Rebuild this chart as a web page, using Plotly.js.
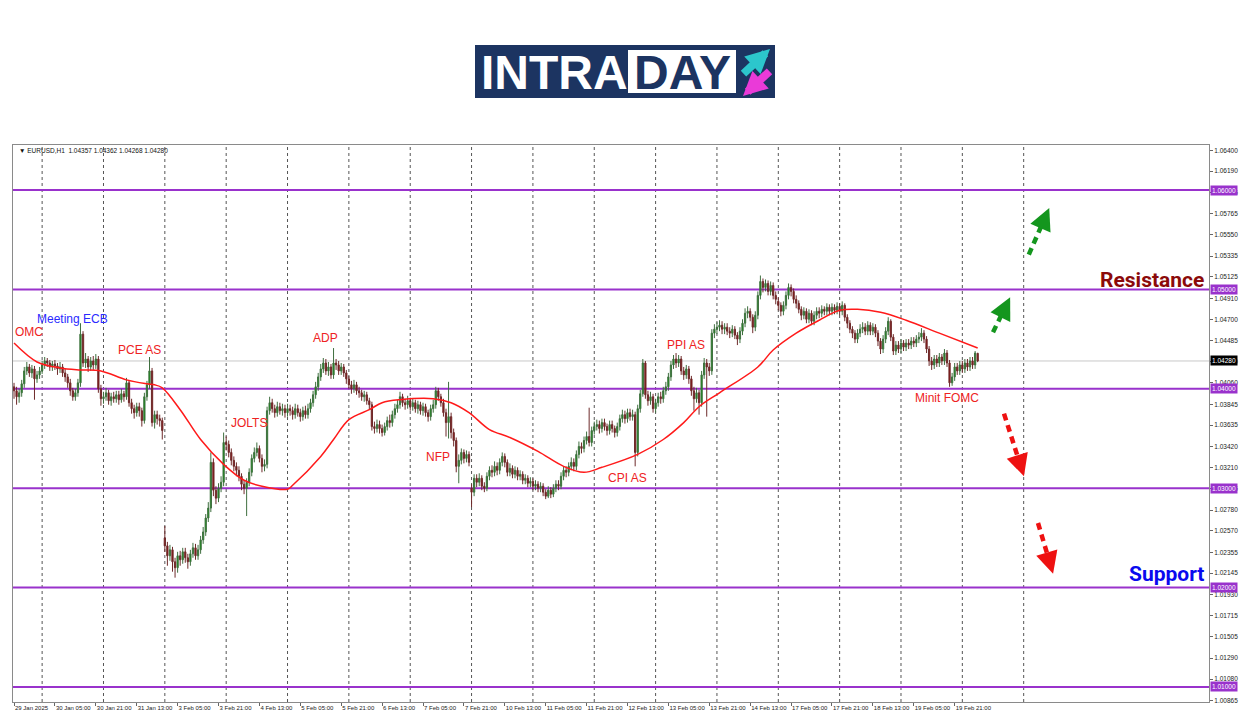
<!DOCTYPE html>
<html><head><meta charset="utf-8">
<script src="https://cdn.plot.ly/plotly-3.0.1.min.js"></script>
<style>html,body{margin:0;padding:0;background:#fff}#chart{width:1250px;height:716px}</style>
</head><body><div id="chart"></div>
<script>
// ---------- DATA (EURUSD H1, bar 0 = 29 Jan 2025 13:00) ----------
const open=[
1.0402,1.0398,1.0392,1.0396,1.0405,1.0418,1.0422,1.0416,1.0420,1.0410,
1.0414,1.0418,1.0424,1.0428,1.0426,1.0422,1.0425,1.0423,1.0420,1.0422,
1.0416,1.0412,1.0406,1.0398,1.0392,1.0396,1.0406,1.0455,1.0426,1.0430,
1.0422,1.0428,1.0424,1.0430,1.0400,1.0390,1.0392,1.0396,1.0388,1.0392,
1.0390,1.0394,1.0389,1.0395,1.0392,1.0406,1.0386,1.0380,1.0376,1.0382,
1.0378,1.0368,1.0392,1.0404,1.0418,1.0366,1.0374,1.0370,1.0368,1.0250,
1.0242,1.0232,1.0238,1.0226,1.0220,1.0232,1.0228,1.0236,1.0230,1.0226,
1.0234,1.0240,1.0232,1.0238,1.0248,1.0256,1.0270,1.0280,1.0326,1.0298,
1.0290,1.0300,1.0306,1.0346,1.0344,1.0336,1.0328,1.0322,1.0318,1.0312,
1.0304,1.0300,1.0306,1.0316,1.0330,1.0336,1.0340,1.0330,1.0322,1.0324,
1.0378,1.0386,1.0380,1.0376,1.0382,1.0378,1.0380,1.0376,1.0380,1.0378,
1.0374,1.0380,1.0376,1.0372,1.0378,1.0374,1.0380,1.0386,1.0394,1.0402,
1.0412,1.0420,1.0426,1.0418,1.0422,1.0414,1.0426,1.0424,1.0418,1.0422,
1.0416,1.0410,1.0404,1.0400,1.0404,1.0398,1.0396,1.0392,1.0394,1.0388,
1.0384,1.0362,1.0360,1.0364,1.0360,1.0356,1.0362,1.0368,1.0366,1.0374,
1.0380,1.0384,1.0392,1.0386,1.0384,1.0388,1.0382,1.0386,1.0380,1.0384,
1.0378,1.0382,1.0376,1.0372,1.0380,1.0384,1.0398,1.0392,1.0386,1.0376,
1.0366,1.0372,1.0356,1.0348,1.0322,1.0328,1.0336,1.0330,1.0334,1.0300,
1.0296,1.0310,1.0306,1.0310,1.0302,1.0300,1.0312,1.0318,1.0316,1.0322,
1.0318,1.0326,1.0332,1.0326,1.0316,1.0320,1.0314,1.0318,1.0312,1.0314,
1.0308,1.0310,1.0305,1.0307,1.0302,1.0304,1.0300,1.0302,1.0296,1.0292,
1.0298,1.0294,1.0300,1.0304,1.0302,1.0312,1.0318,1.0316,1.0322,1.0326,
1.0322,1.0334,1.0342,1.0340,1.0348,1.0352,1.0346,1.0358,1.0362,1.0364,
1.0360,1.0366,1.0362,1.0358,1.0364,1.0360,1.0356,1.0362,1.0370,1.0374,
1.0370,1.0376,1.0372,1.0374,1.0336,1.0380,1.0395,1.0426,1.0394,1.0388,
1.0392,1.0380,1.0386,1.0392,1.0390,1.0398,1.0402,1.0412,1.0424,1.0430,
1.0426,1.0430,1.0418,1.0414,1.0420,1.0410,1.0398,1.0390,1.0396,1.0386,
1.0414,1.0426,1.0422,1.0418,1.0456,1.0460,1.0462,1.0464,1.0460,1.0462,
1.0458,1.0456,1.0460,1.0454,1.0450,1.0458,1.0466,1.0476,1.0478,1.0472,
1.0462,1.0474,1.0494,1.0508,1.0502,1.0506,1.0498,1.0504,1.0494,1.0488,
1.0484,1.0478,1.0484,1.0494,1.0502,1.0498,1.0490,1.0486,1.0480,1.0474,
1.0478,1.0470,1.0476,1.0468,1.0474,1.0478,1.0476,1.0480,1.0478,1.0482,
1.0478,1.0482,1.0479,1.0483,1.0478,1.0484,1.0472,1.0466,1.0460,1.0456,
1.0450,1.0456,1.0460,1.0462,1.0458,1.0464,1.0458,1.0462,1.0456,1.0448,
1.0440,1.0450,1.0458,1.0468,1.0452,1.0438,1.0444,1.0440,1.0446,1.0442,
1.0446,1.0444,1.0448,1.0446,1.0450,1.0452,1.0456,1.0450,1.0440,1.0428,
1.0424,1.0430,1.0426,1.0432,1.0428,1.0436,1.0426,1.0406,1.0412,1.0422,
1.0418,1.0424,1.0420,1.0426,1.0422,1.0428,1.0424,1.04357];
const high=[
1.0406,1.0402,1.0400,1.0409,1.0422,1.0427,1.0425,1.0424,1.0423,1.0418,
1.0422,1.0428,1.0432,1.0431,1.0429,1.0428,1.0429,1.0426,1.0427,1.0425,
1.0420,1.0415,1.0410,1.0401,1.0400,1.0410,1.0466,1.0458,1.0436,1.0433,
1.0432,1.0433,1.0435,1.0433,1.0404,1.0397,1.0401,1.0399,1.0396,1.0397,
1.0398,1.0398,1.0400,1.0398,1.0411,1.0408,1.0390,1.0384,1.0386,1.0386,
1.0381,1.0396,1.0408,1.0432,1.0421,1.0378,1.0378,1.0374,1.0371,1.0262,
1.0246,1.0243,1.0241,1.0230,1.0236,1.0237,1.0240,1.0240,1.0234,1.0238,
1.0245,1.0244,1.0243,1.0252,1.0261,1.0274,1.0286,1.0336,1.0330,1.0302,
1.0305,1.0312,1.0356,1.0352,1.0348,1.0340,1.0332,1.0326,1.0322,1.0315,
1.0308,1.0310,1.0320,1.0334,1.0341,1.0346,1.0343,1.0334,1.0329,1.0382,
1.0392,1.0390,1.0384,1.0387,1.0386,1.0385,1.0384,1.0385,1.0384,1.0382,
1.0385,1.0384,1.0380,1.0382,1.0383,1.0385,1.0390,1.0398,1.0407,1.0416,
1.0425,1.0431,1.0430,1.0427,1.0425,1.0441,1.0430,1.0428,1.0426,1.0425,
1.0419,1.0413,1.0408,1.0409,1.0407,1.0402,1.0399,1.0398,1.0397,1.0391,
1.0387,1.0367,1.0369,1.0368,1.0364,1.0366,1.0372,1.0374,1.0378,1.0385,
1.0389,1.0397,1.0395,1.0390,1.0393,1.0391,1.0390,1.0389,1.0388,1.0387,
1.0386,1.0385,1.0379,1.0384,1.0389,1.0402,1.0401,1.0395,1.0390,1.0380,
1.0407,1.0376,1.0360,1.0351,1.0334,1.0340,1.0339,1.0338,1.0337,1.0304,
1.0314,1.0314,1.0315,1.0313,1.0306,1.0316,1.0322,1.0323,1.0327,1.0326,
1.0330,1.0336,1.0335,1.0329,1.0325,1.0323,1.0322,1.0321,1.0318,1.0317,
1.0314,1.0313,1.0311,1.0310,1.0308,1.0307,1.0306,1.0305,1.0299,1.0302,
1.0301,1.0304,1.0308,1.0308,1.0316,1.0322,1.0322,1.0326,1.0331,1.0330,
1.0338,1.0347,1.0346,1.0352,1.0357,1.0381,1.0362,1.0367,1.0369,1.0368,
1.0370,1.0370,1.0365,1.0368,1.0368,1.0363,1.0366,1.0374,1.0379,1.0378,
1.0380,1.0380,1.0379,1.0377,1.0384,1.0399,1.0430,1.0428,1.0398,1.0397,
1.0395,1.0390,1.0396,1.0397,1.0402,1.0407,1.0416,1.0428,1.0434,1.0436,
1.0434,1.0433,1.0422,1.0424,1.0423,1.0413,1.0402,1.0401,1.0399,1.0418,
1.0431,1.0430,1.0426,1.0460,1.0465,1.0467,1.0469,1.0468,1.0466,1.0466,
1.0462,1.0464,1.0463,1.0457,1.0462,1.0470,1.0481,1.0483,1.0481,1.0475,
1.0478,1.0498,1.0514,1.0511,1.0510,1.0509,1.0508,1.0507,1.0498,1.0492,
1.0487,1.0488,1.0498,1.0506,1.0505,1.0501,1.0494,1.0489,1.0483,1.0482,
1.0481,1.0480,1.0479,1.0478,1.0482,1.0482,1.0484,1.0483,1.0486,1.0485,
1.0486,1.0485,1.0487,1.0486,1.0488,1.0486,1.0475,1.0469,1.0463,1.0459,
1.0460,1.0465,1.0467,1.0466,1.0468,1.0467,1.0466,1.0465,1.0459,1.0451,
1.0454,1.0462,1.0472,1.0470,1.0455,1.0448,1.0448,1.0450,1.0449,1.0450,
1.0450,1.0452,1.0452,1.0454,1.0457,1.0461,1.0459,1.0453,1.0443,1.0432,
1.0434,1.0434,1.0436,1.0435,1.0440,1.0439,1.0429,1.0416,1.0426,1.0426,
1.0428,1.0428,1.0430,1.0430,1.0432,1.0432,1.0438,1.04362];
const low=[
1.0390,1.0384,1.0386,1.0392,1.0401,1.0414,1.0412,1.0411,1.0389,1.0406,
1.0410,1.0415,1.0420,1.0422,1.0418,1.0418,1.0419,1.0414,1.0416,1.0412,
1.0407,1.0401,1.0393,1.0388,1.0388,1.0392,1.0402,1.0422,1.0421,1.0417,
1.0418,1.0419,1.0420,1.0396,1.0383,1.0385,1.0388,1.0384,1.0383,1.0386,
1.0386,1.0384,1.0386,1.0387,1.0389,1.0382,1.0375,1.0370,1.0372,1.0372,
1.0362,1.0365,1.0388,1.0400,1.0362,1.0360,1.0364,1.0362,1.0349,1.0236,
1.0222,1.0227,1.0216,1.0210,1.0215,1.0222,1.0224,1.0225,1.0219,1.0222,
1.0230,1.0228,1.0228,1.0234,1.0244,1.0252,1.0266,1.0276,1.0292,1.0284,
1.0286,1.0296,1.0302,1.0338,1.0331,1.0323,1.0317,1.0312,1.0307,1.0298,
1.0294,1.0272,1.0302,1.0312,1.0326,1.0332,1.0326,1.0316,1.0317,1.0320,
1.0374,1.0376,1.0371,1.0372,1.0374,1.0373,1.0371,1.0372,1.0373,1.0369,
1.0370,1.0372,1.0367,1.0368,1.0370,1.0370,1.0376,1.0382,1.0390,1.0398,
1.0408,1.0416,1.0414,1.0413,1.0410,1.0410,1.0419,1.0414,1.0414,1.0412,
1.0405,1.0400,1.0395,1.0396,1.0394,1.0391,1.0388,1.0387,1.0384,1.0379,
1.0358,1.0355,1.0356,1.0355,1.0352,1.0353,1.0358,1.0361,1.0362,1.0370,
1.0376,1.0380,1.0382,1.0379,1.0380,1.0378,1.0378,1.0376,1.0375,1.0374,
1.0373,1.0372,1.0367,1.0368,1.0376,1.0380,1.0388,1.0382,1.0372,1.0352,
1.0350,1.0350,1.0342,1.0316,1.0305,1.0324,1.0325,1.0326,1.0322,1.0281,
1.0292,1.0301,1.0302,1.0298,1.0296,1.0297,1.0308,1.0311,1.0312,1.0313,
1.0314,1.0322,1.0321,1.0312,1.0312,1.0310,1.0310,1.0308,1.0308,1.0304,
1.0304,1.0301,1.0301,1.0298,1.0298,1.0296,1.0296,1.0292,1.0289,1.0290,
1.0290,1.0291,1.0296,1.0298,1.0299,1.0308,1.0311,1.0312,1.0318,1.0317,
1.0318,1.0330,1.0335,1.0336,1.0344,1.0342,1.0342,1.0354,1.0358,1.0355,
1.0356,1.0358,1.0353,1.0354,1.0356,1.0351,1.0352,1.0358,1.0366,1.0365,
1.0366,1.0368,1.0368,1.0322,1.0332,1.0376,1.0392,1.0390,1.0383,1.0384,
1.0376,1.0376,1.0382,1.0385,1.0386,1.0394,1.0398,1.0408,1.0420,1.0421,
1.0422,1.0414,1.0409,1.0410,1.0405,1.0393,1.0378,1.0386,1.0374,1.0382,
1.0410,1.0372,1.0413,1.0414,1.0451,1.0455,1.0458,1.0455,1.0455,1.0454,
1.0451,1.0452,1.0450,1.0444,1.0446,1.0454,1.0462,1.0471,1.0468,1.0456,
1.0458,1.0470,1.0490,1.0497,1.0498,1.0494,1.0494,1.0490,1.0485,1.0479,
1.0473,1.0474,1.0480,1.0490,1.0493,1.0486,1.0481,1.0476,1.0469,1.0470,
1.0466,1.0466,1.0464,1.0464,1.0470,1.0471,1.0472,1.0474,1.0474,1.0474,
1.0474,1.0475,1.0475,1.0474,1.0474,1.0468,1.0461,1.0456,1.0451,1.0446,
1.0446,1.0452,1.0456,1.0454,1.0454,1.0454,1.0454,1.0452,1.0443,1.0435,
1.0436,1.0446,1.0454,1.0448,1.0434,1.0434,1.0436,1.0436,1.0438,1.0438,
1.0440,1.0440,1.0442,1.0442,1.0446,1.0448,1.0446,1.0436,1.0423,1.0419,
1.0420,1.0422,1.0422,1.0424,1.0424,1.0422,1.0402,1.0403,1.0408,1.0414,
1.0414,1.0416,1.0416,1.0418,1.0418,1.0420,1.0420,1.04268];
const close=[
1.0398,1.0392,1.0396,1.0405,1.0418,1.0422,1.0416,1.0420,1.0410,1.0414,
1.0418,1.0424,1.0428,1.0426,1.0422,1.0425,1.0423,1.0420,1.0422,1.0416,
1.0412,1.0406,1.0398,1.0392,1.0396,1.0406,1.0455,1.0426,1.0430,1.0422,
1.0428,1.0424,1.0430,1.0400,1.0390,1.0392,1.0396,1.0388,1.0392,1.0390,
1.0394,1.0389,1.0395,1.0392,1.0406,1.0386,1.0380,1.0376,1.0382,1.0378,
1.0368,1.0392,1.0404,1.0418,1.0366,1.0374,1.0370,1.0368,1.0358,1.0242,
1.0232,1.0238,1.0226,1.0220,1.0232,1.0228,1.0236,1.0230,1.0226,1.0234,
1.0240,1.0232,1.0238,1.0248,1.0256,1.0270,1.0280,1.0326,1.0298,1.0290,
1.0300,1.0306,1.0346,1.0344,1.0336,1.0328,1.0322,1.0318,1.0312,1.0304,
1.0300,1.0306,1.0316,1.0330,1.0336,1.0340,1.0330,1.0322,1.0324,1.0378,
1.0386,1.0380,1.0376,1.0382,1.0378,1.0380,1.0376,1.0380,1.0378,1.0374,
1.0380,1.0376,1.0372,1.0378,1.0374,1.0380,1.0386,1.0394,1.0402,1.0412,
1.0420,1.0426,1.0418,1.0422,1.0414,1.0426,1.0424,1.0418,1.0422,1.0416,
1.0410,1.0404,1.0400,1.0404,1.0398,1.0396,1.0392,1.0394,1.0388,1.0384,
1.0362,1.0360,1.0364,1.0360,1.0356,1.0362,1.0368,1.0366,1.0374,1.0380,
1.0384,1.0392,1.0386,1.0384,1.0388,1.0382,1.0386,1.0380,1.0384,1.0378,
1.0382,1.0376,1.0372,1.0380,1.0384,1.0398,1.0392,1.0386,1.0376,1.0366,
1.0372,1.0356,1.0348,1.0322,1.0328,1.0336,1.0330,1.0334,1.0326,1.0296,
1.0310,1.0306,1.0310,1.0302,1.0300,1.0312,1.0318,1.0316,1.0322,1.0318,
1.0326,1.0332,1.0326,1.0316,1.0320,1.0314,1.0318,1.0312,1.0314,1.0308,
1.0310,1.0305,1.0307,1.0302,1.0304,1.0300,1.0302,1.0296,1.0292,1.0298,
1.0294,1.0300,1.0304,1.0302,1.0312,1.0318,1.0316,1.0322,1.0326,1.0322,
1.0334,1.0342,1.0340,1.0348,1.0352,1.0346,1.0358,1.0362,1.0364,1.0360,
1.0366,1.0362,1.0358,1.0364,1.0360,1.0356,1.0362,1.0370,1.0374,1.0370,
1.0376,1.0372,1.0374,1.0336,1.0380,1.0395,1.0426,1.0394,1.0388,1.0392,
1.0380,1.0386,1.0392,1.0390,1.0398,1.0402,1.0412,1.0424,1.0430,1.0426,
1.0430,1.0418,1.0414,1.0420,1.0410,1.0398,1.0390,1.0396,1.0386,1.0414,
1.0426,1.0422,1.0418,1.0456,1.0460,1.0462,1.0464,1.0460,1.0462,1.0458,
1.0456,1.0460,1.0454,1.0450,1.0458,1.0466,1.0476,1.0478,1.0472,1.0462,
1.0474,1.0494,1.0508,1.0502,1.0506,1.0498,1.0504,1.0494,1.0490,1.0484,
1.0478,1.0484,1.0494,1.0502,1.0498,1.0490,1.0486,1.0480,1.0474,1.0478,
1.0470,1.0476,1.0468,1.0474,1.0478,1.0476,1.0480,1.0478,1.0482,1.0478,
1.0482,1.0479,1.0483,1.0478,1.0484,1.0472,1.0466,1.0460,1.0456,1.0450,
1.0456,1.0460,1.0462,1.0458,1.0464,1.0458,1.0462,1.0456,1.0448,1.0440,
1.0450,1.0458,1.0468,1.0452,1.0438,1.0444,1.0440,1.0446,1.0442,1.0446,
1.0444,1.0448,1.0446,1.0450,1.0452,1.0456,1.0450,1.0440,1.0428,1.0424,
1.0430,1.0426,1.0432,1.0428,1.0436,1.0426,1.0406,1.0412,1.0422,1.0418,
1.0424,1.0420,1.0426,1.0422,1.0428,1.0424,1.0436,1.04280];

// moving average (red line), read at selected bars
const maBars=[0,9,18,26,34,44,52,55,58,65,73,82,90,97,107,109,120,125,131,139,144,151,164,171,178,186,194,205,215,223,230,244,254,262,268,276,291,297,306,315,323,330,339,349,362,377];
const maValues=[1.0446,1.0427,1.0421,1.0419,1.0418,1.0409,1.0405,1.0404,1.0401,1.0379,1.0349,1.0324,1.0308,1.0302,1.0299,1.0303,1.0332,1.0349,1.0369,1.0379,1.0386,1.0389,1.0390,1.0386,1.0376,1.0359,1.0351,1.0337,1.0322,1.0316,1.0321,1.0334,1.0349,1.0366,1.0382,1.0396,1.0422,1.0439,1.0456,1.0469,1.0479,1.0480,1.0477,1.0469,1.0456,1.0441];

const tickBars=[0,16,32,48,64,80,96,112,128,144,160,176,192,208,224,240,256,272,288,304,320,336,352,368];
const tickLabels=["29 Jan 2025","30 Jan 05:00","30 Jan 21:00","31 Jan 13:00","3 Feb 05:00","3 Feb 21:00","4 Feb 13:00","5 Feb 05:00","5 Feb 21:00","6 Feb 13:00","7 Feb 05:00","7 Feb 21:00","10 Feb 13:00","11 Feb 05:00","11 Feb 21:00","12 Feb 13:00","13 Feb 05:00","13 Feb 21:00","14 Feb 13:00","17 Feb 05:00","17 Feb 21:00","18 Feb 13:00","19 Feb 05:00","19 Feb 21:00"];
const dayStarts=[11,35,59,83,107,131,155,179,203,227,251,275,299,323,347,371,395];
const yTicks=[1.06400,1.06190,1.05975,1.05765,1.05550,1.05335,1.05125,1.04910,1.04700,1.04485,1.04270,1.04060,1.03845,1.03635,1.03420,1.03210,1.02995,1.02780,1.02570,1.02355,1.02145,1.01930,1.01715,1.01505,1.01290,1.01080,1.00865];
const levels=[1.06,1.05,1.04,1.03,1.02,1.01];
const lastPrice=1.04280;
const headerText="▼ EURUSD,H1  1.04357 1.04362 1.04268 1.04280";

const eventLabels=["OMC","Meeting ECB","PCE AS","JOLTS","ADP","NFP","CPI AS","PPI AS","Minit FOMC"];
const eventBars=[-0.4,23,49,92,122,166,240,263,365];
const eventPrices=[1.0457,1.0470,1.0439,1.0366,1.0451,1.0331,1.0310,1.0444,1.0391];
const eventColors=["#ee2222","#2a2aff","#ee2222","#ee2222","#ee2222","#ee2222","#ee2222","#ee2222","#ee2222"];

// scenario arrows: [tailBar, tailPrice, headBar, headPrice, colour]
const scenarioArrows=[
  [383,1.0457,389.7,1.0492,"#14961e"],
  [397,1.0535,405,1.0582,"#14961e"],
  [387.3,1.0375,395.1,1.0312,"#ee1111"],
  [400.6,1.0265,406.5,1.0214,"#ee1111"]
];

// ---------- BUILD ----------
const N=close.length;
const bars=[]; for(let i=0;i<N;i++) bars.push(i);
const FONT="Liberation Sans, Arial, sans-serif";
const px=x=>(x-13)/1196, py=y=>(702-y)/557;

const traces=[];
traces.push({type:'candlestick',x:bars,open:open,high:high,low:low,close:close,
  increasing:{line:{color:'#3f6f3f',width:1},fillcolor:'#0c9a0c'},
  decreasing:{line:{color:'#6e2a2a',width:1},fillcolor:'#8e0c0c'},
  whiskerwidth:0,hoverinfo:'skip',showlegend:false});
traces.push({type:'scatter',mode:'lines',x:maBars,y:maValues,line:{color:'#ff1a1a',width:1.5,shape:'spline'},hoverinfo:'skip',showlegend:false});
scenarioArrows.forEach(a=>{
  const fx=a[2]-(a[2]-a[0])*0.12, fy=a[3]-(a[3]-a[1])*0.12;
  traces.push({type:'scatter',mode:'lines',x:[a[0],fx],y:[a[1],fy],line:{color:a[4],width:4.5,dash:'7px,5px'},hoverinfo:'skip',showlegend:false});
});

const shapes=[];
dayStarts.forEach(d=>shapes.push({type:'line',xref:'x',yref:'paper',x0:d,x1:d,y0:0,y1:1,line:{color:'#555',width:1,dash:'dot'},layer:'below'}));
shapes.push({type:'line',xref:'paper',yref:'y',x0:0,x1:1,y0:lastPrice,y1:lastPrice,line:{color:'#c8c8c8',width:1},layer:'below'});
levels.forEach(l=>shapes.push({type:'line',xref:'paper',yref:'y',x0:0,x1:1,y0:l,y1:l,line:{color:'#9932cc',width:2},layer:'below'}));
// logo
shapes.push({type:'rect',xref:'paper',yref:'paper',x0:px(475),x1:px(775),y0:py(98),y1:py(45),fillcolor:'#1c3461',line:{width:0}});
shapes.push({type:'rect',xref:'paper',yref:'paper',x0:px(628),x1:px(736),y0:py(93),y1:py(50),fillcolor:'#ffffff',line:{width:0}});

const ann=[];
ann.push({xref:'paper',yref:'paper',x:px(554),y:py(72),text:'<b>INTRA</b>',showarrow:false,font:{family:"Liberation Sans, Arial, sans-serif",size:48,color:'#ffffff'},xanchor:'center',yanchor:'middle'});
ann.push({xref:'paper',yref:'paper',x:px(682),y:py(72),text:'<b>DAY</b>',showarrow:false,font:{family:"Liberation Sans, Arial, sans-serif",size:48,color:'#1c3461'},xanchor:'center',yanchor:'middle'});
ann.push({xref:'paper',yref:'paper',x:px(770),y:py(49),ax:-28,ay:26,text:'',showarrow:true,arrowhead:2,arrowsize:0.6,arrowwidth:8,arrowcolor:'#2cc6cc'});
ann.push({xref:'paper',yref:'paper',x:px(743),y:py(96),ax:28,ay:-26,text:'',showarrow:true,arrowhead:2,arrowsize:0.6,arrowwidth:8,arrowcolor:'#ea3ad8'});
ann.push({xref:'paper',yref:'paper',x:px(17),y:py(150),text:headerText,showarrow:false,xanchor:'left',yanchor:'middle',font:{family:FONT,size:6.5,color:'#111'}});
eventLabels.forEach((t,k)=>{
  ann.push({xref:'x',yref:'y',x:eventBars[k],y:eventPrices[k],text:t,showarrow:false,
    xanchor:k===0?'left':'center',yanchor:'middle',font:{family:FONT,size:12,color:eventColors[k]}});
});
ann.push({xref:'paper',yref:'y',x:px(1206),y:1.0509,text:'<b>Resistance</b>',showarrow:false,xanchor:'right',yanchor:'middle',font:{family:"Roboto, Liberation Sans, sans-serif",size:21,color:'#8b0a0a'}});
ann.push({xref:'paper',yref:'y',x:px(1206),y:1.0214,text:'<b>Support</b>',showarrow:false,xanchor:'right',yanchor:'middle',font:{family:"Roboto, Liberation Sans, sans-serif",size:21,color:'#0a0aee'}});
scenarioArrows.forEach(a=>{
  const tx=a[2]-(a[2]-a[0])*0.3, ty=a[3]-(a[3]-a[1])*0.3;
  ann.push({xref:'x',yref:'y',axref:'x',ayref:'y',x:a[2],y:a[3],ax:tx,ay:ty,text:'',showarrow:true,arrowhead:2,arrowsize:1.1,arrowwidth:4,arrowcolor:a[4]});
});
levels.forEach(l=>ann.push({xref:'paper',yref:'y',x:1.0008,y:l,text:l.toFixed(5),showarrow:false,xanchor:'left',yanchor:'middle',bgcolor:'#9932cc',borderpad:1,font:{family:FONT,size:6.5,color:'#ffffff'}}));
ann.push({xref:'paper',yref:'y',x:1.0008,y:lastPrice,text:lastPrice.toFixed(5),showarrow:false,xanchor:'left',yanchor:'middle',bgcolor:'#000000',borderpad:1,font:{family:FONT,size:6.5,color:'#ffffff'}});

const layout={
  width:1250,height:716,margin:{l:13,r:41,t:145,b:14},
  paper_bgcolor:'#ffffff',plot_bgcolor:'#ffffff',showlegend:false,hovermode:false,
  xaxis:{type:'linear',range:[-0.4,467.5],tickvals:tickBars,ticktext:tickLabels,ticks:'outside',ticklen:3,tickcolor:'#666',tickangle:0,
    ticklabelposition:'outside right',tickfont:{family:FONT,size:6,color:'#222'},showgrid:false,zeroline:false,
    showline:true,linecolor:'#8a8a8a',linewidth:1,mirror:true,rangeslider:{visible:false},fixedrange:true},
  yaxis:{range:[1.00849,1.06453],side:'right',tickvals:yTicks,ticktext:yTicks.map(v=>v.toFixed(5)),ticks:'outside',ticklen:3,tickcolor:'#666',
    tickfont:{family:FONT,size:6.5,color:'#222'},showgrid:false,zeroline:false,showline:true,linecolor:'#8a8a8a',linewidth:1,mirror:true,fixedrange:true},
  shapes:shapes,annotations:ann
};
Plotly.newPlot('chart',traces,layout,{displayModeBar:false,staticPlot:true});
</script></body></html>
